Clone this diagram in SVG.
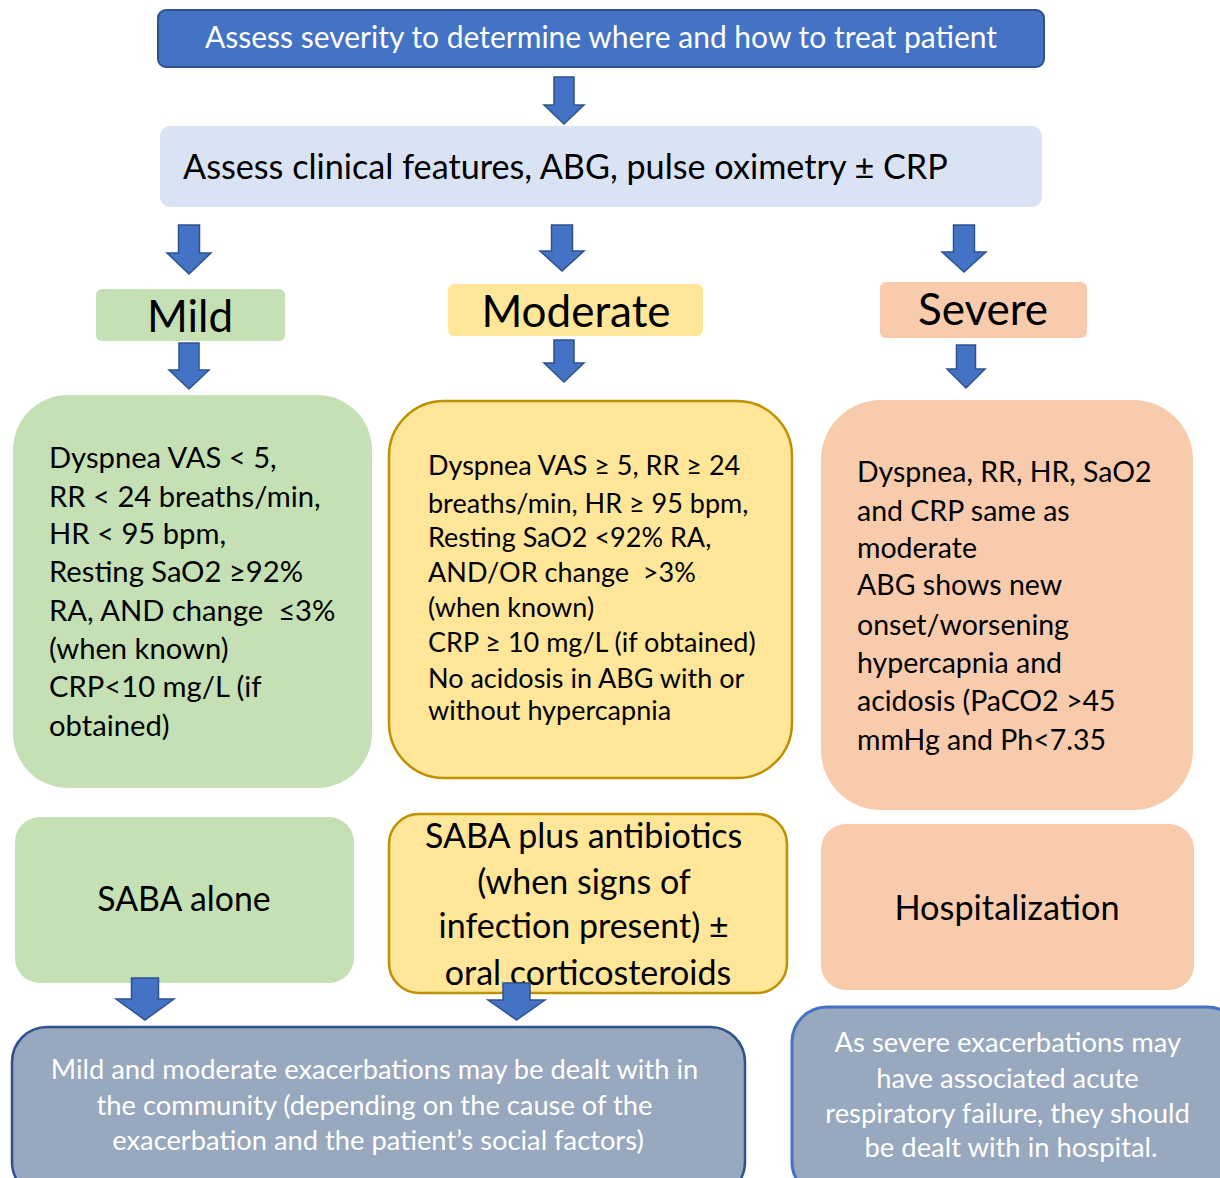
<svg xmlns="http://www.w3.org/2000/svg" width="1220" height="1178" viewBox="0 0 1220 1178">
  <style>
    text { font-family: Lato, "Liberation Sans", sans-serif; fill: #000; }
    .white { fill: #fff; }
    .mid { text-anchor: middle; }
    .green { fill: #C5E0B4; }
    .yellow { fill: #FFE699; stroke: #BF9000; stroke-width: 2.5; }
    .peach { fill: #F8CBAD; }
    .note { fill: #98A8BE; }
    .arrow { fill: #4472C4; stroke: #2F528F; stroke-width: 1.5; stroke-linejoin: miter; }
  </style>
  <rect width="1220" height="1178" fill="#fff"/>

  <!-- title banner -->
  <g id="assess-severity">
    <rect x="158" y="10" width="886" height="57" rx="8" fill="#4472C4" stroke="#2F528F" stroke-width="2"/>
    <text class="white mid" x="601" y="48" font-size="30">Assess severity to determine where and how to treat patient</text>
  </g>

  <g id="assess-features">
    <rect x="160" y="126" width="882" height="81" rx="10" fill="#DAE3F3"/>
    <text x="183" y="179" font-size="34.2">Assess clinical features, ABG, pulse oximetry ± CRP</text>
  </g>

  <!-- severity labels -->
  <g id="mild-label">
    <rect class="green" x="96" y="289" width="189" height="52" rx="6"/>
    <text class="mid" x="190" y="332" font-size="44">Mild</text>
  </g>
  <g id="moderate-label">
    <rect x="448" y="284" width="255" height="52" rx="6" fill="#FFE699"/>
    <text class="mid" x="576" y="327" font-size="44">Moderate</text>
  </g>
  <g id="severe-label">
    <rect class="peach" x="880" y="282" width="207" height="56" rx="6"/>
    <text class="mid" x="983" y="325" font-size="44">Severe</text>
  </g>

  <!-- criteria -->
  <g id="mild-criteria">
    <rect class="green" x="13" y="395" width="359" height="393" rx="55"/>
    <text x="49" font-size="29.2">
      <tspan x="49" y="468">Dyspnea VAS &lt; 5,</tspan>
      <tspan x="49" y="507">RR &lt; 24 breaths/min,</tspan>
      <tspan x="49" y="544">HR &lt; 95 bpm,</tspan>
      <tspan x="49" y="582">Resting SaO2 ≥92%</tspan>
      <tspan x="49" y="621">RA, AND change&#160; ≤3%</tspan>
      <tspan x="49" y="659">(when known)</tspan>
      <tspan x="49" y="697">CRP&lt;10 mg/L (if</tspan>
      <tspan x="49" y="736">obtained)</tspan>
    </text>
  </g>
  <g id="moderate-criteria">
    <rect class="yellow" x="389" y="401" width="403" height="377" rx="55"/>
    <text x="428" font-size="27">
      <tspan x="428" y="475">Dyspnea VAS ≥ 5, RR ≥ 24</tspan>
      <tspan x="428" y="513">breaths/min, HR ≥ 95 bpm,</tspan>
      <tspan x="428" y="547">Resting SaO2 &lt;92% RA,</tspan>
      <tspan x="428" y="582">AND/OR change&#160; &gt;3%</tspan>
      <tspan x="428" y="617">(when known)</tspan>
      <tspan x="428" y="652">CRP ≥ 10 mg/L (if obtained)</tspan>
      <tspan x="428" y="688">No acidosis in ABG with or</tspan>
      <tspan x="428" y="720">without hypercapnia</tspan>
    </text>
  </g>
  <g id="severe-criteria">
    <rect class="peach" x="821" y="400" width="372" height="410" rx="60"/>
    <text x="857" font-size="28.5">
      <tspan x="857" y="482">Dyspnea, RR, HR, SaO2</tspan>
      <tspan x="857" y="521">and CRP same as</tspan>
      <tspan x="857" y="558">moderate</tspan>
      <tspan x="857" y="595">ABG shows new</tspan>
      <tspan x="857" y="635">onset/worsening</tspan>
      <tspan x="857" y="673">hypercapnia and</tspan>
      <tspan x="857" y="711">acidosis (PaCO2 &gt;45</tspan>
      <tspan x="857" y="750">mmHg and Ph&lt;7.35</tspan>
    </text>
  </g>

  <!-- treatments -->
  <g id="mild-treatment">
    <rect class="green" x="15" y="817" width="339" height="166" rx="25"/>
    <text class="mid" x="184" y="911" font-size="33.8">SABA alone</text>
  </g>
  <g id="moderate-treatment">
    <rect class="yellow" x="389" y="814" width="398" height="179" rx="30"/>
    <text class="mid" font-size="34">
      <tspan x="588" y="848">SABA plus antibiotics</tspan>
      <tspan x="588" y="894">(when signs of</tspan>
      <tspan x="588" y="938">infection present) ±</tspan>
      <tspan x="588" y="985">oral corticosteroids</tspan>
    </text>
  </g>
  <g id="severe-treatment">
    <rect class="peach" x="821" y="824" width="373" height="166" rx="25"/>
    <text class="mid" x="1007" y="920" font-size="34.3">Hospitalization</text>
  </g>

  <!-- setting notes -->
  <g id="community-note">
    <rect class="note" x="12" y="1027" width="733" height="170" rx="35" stroke="#2F528F" stroke-width="2.5"/>
    <text class="white mid" font-size="27.3">
      <tspan x="378" y="1079">Mild and moderate exacerbations may be dealt with in</tspan>
      <tspan x="378" y="1115">the community (depending on the cause of the</tspan>
      <tspan x="378" y="1150">exacerbation and the patient’s social factors)</tspan>
    </text>
  </g>
  <g id="hospital-note">
    <rect class="note" x="792" y="1007" width="450" height="190" rx="35" stroke="#4472C4" stroke-width="3"/>
    <text class="white mid" font-size="27.4">
      <tspan x="1011" y="1052">As severe exacerbations may</tspan>
      <tspan x="1011" y="1088">have associated acute</tspan>
      <tspan x="1011" y="1123">respiratory failure, they should</tspan>
      <tspan x="1011" y="1157">be dealt with in hospital.</tspan>
    </text>
  </g>

  <!-- block arrows -->
  <g id="connectors">
    <path class="arrow" d="M554,77 H574 V105 H584 L564,124 L544,105 H554 Z"/>
    <path class="arrow" d="M178.5,225 H199.5 V253 H211 L189,274 L167,253 H178.5 Z"/>
    <path class="arrow" d="M551.5,225 H572.5 V251 H584 L562,271 L540,251 H551.5 Z"/>
    <path class="arrow" d="M953.5,225 H974.5 V252 H986 L964,272 L942,252 H953.5 Z"/>
    <path class="arrow" d="M179,343 H199 V370 H209 L189,389 L169,370 H179 Z"/>
    <path class="arrow" d="M554,340 H574 V363 H584 L564,382 L544,363 H554 Z"/>
    <path class="arrow" d="M956.5,345 H975.5 V369 H985 L966,388 L947,369 H956.5 Z"/>
    <path class="arrow" d="M131.5,978 H158.5 V999 H174 L145,1020 L116,999 H131.5 Z"/>
    <path class="arrow" d="M503,983 H530 V1000 H545 L516.5,1020 L488,1000 H503 Z"/>
  </g>
</svg>
